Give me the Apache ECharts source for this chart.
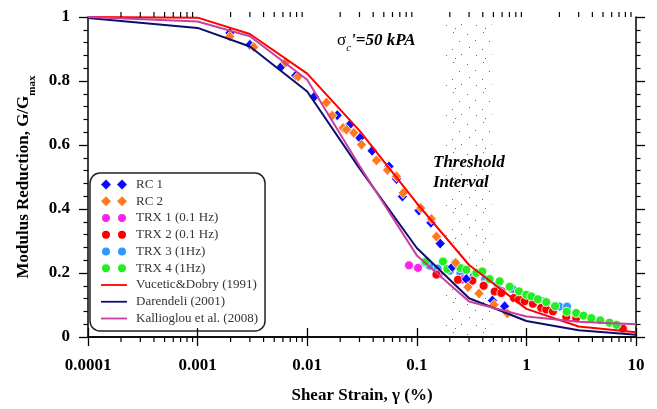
<!DOCTYPE html>
<html>
<head>
<meta charset="utf-8">
<script src="https://cdn.jsdelivr.net/npm/echarts@6/dist/echarts.min.js"></script>
<style>
  html, body { margin: 0; padding: 0; background: #fff; }
  #chart { width: 657px; height: 409px; }
</style>
</head>
<body>
<div id="chart"></div>
<script>
// Axis tick labels
const xTickLabels = ['0.0001', '0.001', '0.01', '0.1', '1', '10'];
const yTickLabels = ['0', '0.2', '0.4', '0.6', '0.8', '1'];

// Reference curves (shear strain %, G/Gmax)
const curveStrain  = [0.0001, 0.001, 0.003, 0.01, 0.03, 0.1, 0.3, 1, 3, 10];
const vuceticDobry = [1.0, 0.998, 0.947, 0.823, 0.645, 0.418, 0.225, 0.088, 0.033, 0.015];
const darendeli    = [0.997, 0.966, 0.908, 0.767, 0.527, 0.278, 0.121, 0.05, 0.021, 0.007];
const kallioglou   = [1.0, 0.986, 0.94, 0.804, 0.535, 0.255, 0.111, 0.064, 0.048, 0.04];

// Resonant column tests
const rc1 = [[0.00197,0.95],[0.0030,0.913],[0.00583,0.846],[0.00787,0.817],[0.0116,0.751],
  [0.0188,0.693],[0.0244,0.663],[0.0302,0.622],[0.0391,0.582],[0.0558,0.533],[0.0652,0.494],
  [0.0739,0.439],[0.1047,0.395],[0.1345,0.357],[0.1634,0.292],[0.211,0.219],[0.283,0.181],
  [0.489,0.114],[0.633,0.096]];
const rc2 = [[0.00197,0.939],[0.00326,0.906],[0.00634,0.858],[0.00826,0.814],[0.0150,0.733],
  [0.0169,0.692],[0.0212,0.653],[0.0228,0.648],[0.0266,0.638],[0.0313,0.601],[0.0428,0.552],
  [0.054,0.522],[0.0652,0.502],[0.0749,0.45],[0.1086,0.403],[0.136,0.369],[0.151,0.314],
  [0.2264,0.232],[0.293,0.156],[0.369,0.136],[0.506,0.101],[0.67,0.074]];

// Cyclic triaxial tests
const trx1 = [[0.0849,0.224],[0.1026,0.216],[0.158,0.197],[0.26,0.18],[0.41,0.162],[0.6,0.143]];
const trx2 = [[0.151,0.195],[0.2375,0.179],[0.321,0.176],[0.407,0.16],[0.513,0.142],[0.59,0.1375],
  [0.769,0.122],[0.855,0.117],[0.964,0.112],[1.146,0.104],[1.367,0.091],[1.518,0.086],
  [1.745,0.08],[2.31,0.063],[2.85,0.059],[7.59,0.026]];
const trx3 = [[0.118,0.232],[0.131,0.223],[0.155,0.214],[0.2,0.207],[0.25,0.2],[0.33,0.19],
  [0.42,0.18],[0.55,0.165],[0.75,0.15],[1.0,0.13],[1.4,0.112],[2.0,0.095],[2.35,0.095]];
const trx4 = [[0.1206,0.235],[0.1733,0.236],[0.19,0.2125],[0.2215,0.229],[0.2496,0.2156],
  [0.283,0.21],[0.349,0.2],[0.396,0.205],[0.462,0.181],[0.57,0.174],[0.703,0.157],[0.855,0.1425],
  [0.998,0.132],[1.109,0.127],[1.274,0.118],[1.518,0.109],[1.827,0.096],[2.33,0.079],[2.85,0.075],
  [3.32,0.0666],[3.91,0.059],[4.72,0.052],[5.73,0.0447],[6.64,0.038]];

// Strain range of the threshold interval
const thresholdInterval = [0.185, 0.48];

// Log-axis minor tick positions (2..9 in each decade)
const minorTicks = [];
for (let d = -4; d <= 0; d++) {
  for (let k = 2; k <= 9; k++) minorTicks.push(Number((k * Math.pow(10, d)).toPrecision(3)));
}

const FONT = 'Liberation Serif, Times New Roman, serif';

function stipplePattern() {
  const c = document.createElement('canvas');
  c.width = 30; c.height = 30;
  const g = c.getContext('2d');
  g.fillStyle = 'rgba(60,60,60,0.75)';
  const dots = [[3,2],[17,4],[25,10],[9,11],[19,17],[2,19],[11,24],[26,25],[5,28]];
  dots.forEach(([x, y]) => g.fillRect(x, y, 1, 1));
  return c;
}

const pairDiamond = 'path://M0,5L5,0L10,5L5,10Z M16,5L21,0L26,5L21,10Z';
const pairCircle = 'path://M0,0 M26,10 M1,5A4,4,0,1,1,9,5A4,4,0,1,1,1,5Z M17,5A4,4,0,1,1,25,5A4,4,0,1,1,17,5Z';
const lineIcon = 'path://M0,0 M26,10 M0,4.1L26,4.1L26,5.9L0,5.9Z';

const toPairs = ys => curveStrain.map((x, i) => [x, ys[i]]);

const chart = echarts.init(document.getElementById('chart'), null, { renderer: 'canvas' });

const scatter = (name, data, symbol, size, color, z) => ({
  type: 'scatter', name, data, symbol, symbolSize: size, z,
  itemStyle: { color, opacity: 1, borderColor: '#fff', borderWidth: 0.8 }
});
const curve = (name, ys, color, width) => ({
  type: 'line', name, data: toPairs(ys), symbol: 'none', z: 6,
  lineStyle: { color, width }, itemStyle: { color }
});
const legendEntry = (name, icon) => ({ name, icon, itemStyle: { borderWidth: 0 } });

chart.setOption({
  animation: false,
  grid: { left: 88, right: 21, top: 17, bottom: 72 },
  xAxis: [{
    type: 'log', logBase: 10, min: 0.0001, max: 10, position: 'bottom',
    name: 'Shear Strain, γ (%)', nameLocation: 'middle', nameGap: 50,
    nameTextStyle: { fontFamily: FONT, fontWeight: 'bold', fontSize: 17, color: '#000' },
    axisLine: { lineStyle: { color: '#000', width: 1.5 } },
    axisTick: { length: 9, lineStyle: { color: '#000', width: 1.3 } },
    axisLabel: {
      margin: 20, fontFamily: FONT, fontWeight: 'bold', fontSize: 17, color: '#000',
      formatter: (v, i) => xTickLabels[i]
    },
    splitLine: { show: false }
  }, {
    type: 'log', logBase: 10, min: 0.0001, max: 10, position: 'top',
    axisLine: { lineStyle: { color: '#000', width: 1.5 } },
    axisTick: { length: 9, lineStyle: { color: '#000', width: 1.3 } },
    axisLabel: { show: false },
    splitLine: { show: false }
  }],
  yAxis: [{
    type: 'value', min: 0, max: 1, interval: 0.2, position: 'left',
    name: '{t|Modulus Reduction, G/G}{s|max}', nameLocation: 'middle', nameGap: 53, nameRotate: 90,
    nameTextStyle: {
      rich: {
        t: { fontFamily: FONT, fontWeight: 'bold', fontSize: 17, color: '#000', lineHeight: 20 },
        s: { fontFamily: FONT, fontWeight: 'bold', fontSize: 11, color: '#000', lineHeight: 20, verticalAlign: 'bottom', padding: [0, 0, -4, 0] }
      }
    },
    axisLine: { lineStyle: { color: '#000', width: 1.5 } },
    axisTick: { length: 9, lineStyle: { color: '#000', width: 1.3 } },
    minorTick: { show: true, splitNumber: 5, length: 4.5, lineStyle: { color: '#000', width: 1.2 } },
    axisLabel: {
      margin: 18, fontFamily: FONT, fontWeight: 'bold', fontSize: 17, color: '#000',
      formatter: (v, i) => yTickLabels[i]
    },
    splitLine: { show: false }
  }, {
    type: 'value', min: 0, max: 1, interval: 0.2, position: 'right',
    axisLine: { lineStyle: { color: '#000', width: 1.5 } },
    axisTick: { length: 9, lineStyle: { color: '#000', width: 1.3 } },
    minorTick: { show: true, splitNumber: 5, length: 4.5, lineStyle: { color: '#000', width: 1.2 } },
    axisLabel: { show: false },
    splitLine: { show: false }
  }],
  legend: {
    orient: 'vertical', left: 90, top: 173,
    padding: [5, 7, 6, 11],
    itemWidth: 26, itemHeight: 10, itemGap: 3.75,
    borderColor: '#222', borderWidth: 1.5, borderRadius: 10,
    itemStyle: { borderWidth: 0 },
    textStyle: { fontFamily: FONT, fontSize: 13, color: '#333', lineHeight: 13, padding: [0, 0, 0, 4] },
    data: [
      legendEntry('RC 1', pairDiamond),
      legendEntry('RC 2', pairDiamond),
      legendEntry('TRX 1 (0.1 Hz)', pairCircle),
      legendEntry('TRX 2 (0.1 Hz)', pairCircle),
      legendEntry('TRX 3 (1Hz)', pairCircle),
      legendEntry('TRX 4 (1Hz)', pairCircle),
      legendEntry('Vucetic&Dobry (1991)', lineIcon),
      legendEntry('Darendeli (2001)', lineIcon),
      legendEntry('Kallioglou et al. (2008)', lineIcon)
    ]
  },
  graphic: [{
    type: 'text', left: 337, top: 32, z: 10,
    style: {
      text: '{g|σ}{c|c}{t|\'=50 kPA}',
      rich: {
        g: { fontFamily: FONT, fontSize: 17, fill: '#000', lineHeight: 20 },
        c: { fontFamily: FONT, fontStyle: 'italic', fontSize: 11, fill: '#000', lineHeight: 20, verticalAlign: 'bottom', padding: [0, 0, -3, 0] },
        t: { fontFamily: FONT, fontStyle: 'italic', fontWeight: 'bold', fontSize: 17, fill: '#000', lineHeight: 20 }
      }
    }
  }, {
    type: 'text', left: 433, top: 153, z: 10,
    style: {
      text: 'Threshold\nInterval',
      font: 'italic bold 17px Liberation Serif', fill: '#000', lineHeight: 20
    }
  }],
  series: [
    {
      type: 'scatter', name: 'threshold', data: [], silent: true, z: 1,
      markArea: {
        silent: true,
        itemStyle: { color: { image: stipplePattern(), repeat: 'repeat' } },
        data: [[{ xAxis: thresholdInterval[0], yAxis: 0 }, { xAxis: thresholdInterval[1], yAxis: 0.99 }]]
      }
    },
    {
      type: 'custom', name: 'minorTicks', silent: true, clip: false, z: 7,
      data: minorTicks.map(v => [v, 0]),
      encode: { x: 0, y: 1 },
      renderItem: (params, api) => {
        const cs = params.coordSys;
        const x = api.coord([api.value(0), 0.5])[0];
        const yb = cs.y + cs.height, yt = cs.y;
        const st = { stroke: '#000', lineWidth: 1.2 };
        return {
          type: 'group', children: [
            { type: 'line', shape: { x1: x, y1: yb, x2: x, y2: yb + 5 }, style: st },
            { type: 'line', shape: { x1: x, y1: yt, x2: x, y2: yt - 5 }, style: st }
          ]
        };
      }
    },
    scatter('TRX 3 (1Hz)', trx3, 'circle', 9, '#3399ff', 2),
    scatter('TRX 1 (0.1 Hz)', trx1, 'circle', 9, '#ff22ee', 2),
    scatter('TRX 2 (0.1 Hz)', trx2, 'circle', 9, '#ff0000', 2),
    scatter('TRX 4 (1Hz)', trx4, 'circle', 9, '#22ee22', 2),
    scatter('RC 1', rc1, 'diamond', [10, 11], '#0a0aff', 3),
    scatter('RC 2', rc2, 'diamond', [10, 11], '#ff7a1f', 3),
    curve('Vucetic&Dobry (1991)', vuceticDobry, '#ff0000', 2),
    curve('Darendeli (2001)', darendeli, '#0d0d6e', 2),
    curve('Kallioglou et al. (2008)', kallioglou, '#c8409f', 2)
  ]
});
</script>
</body>
</html>
